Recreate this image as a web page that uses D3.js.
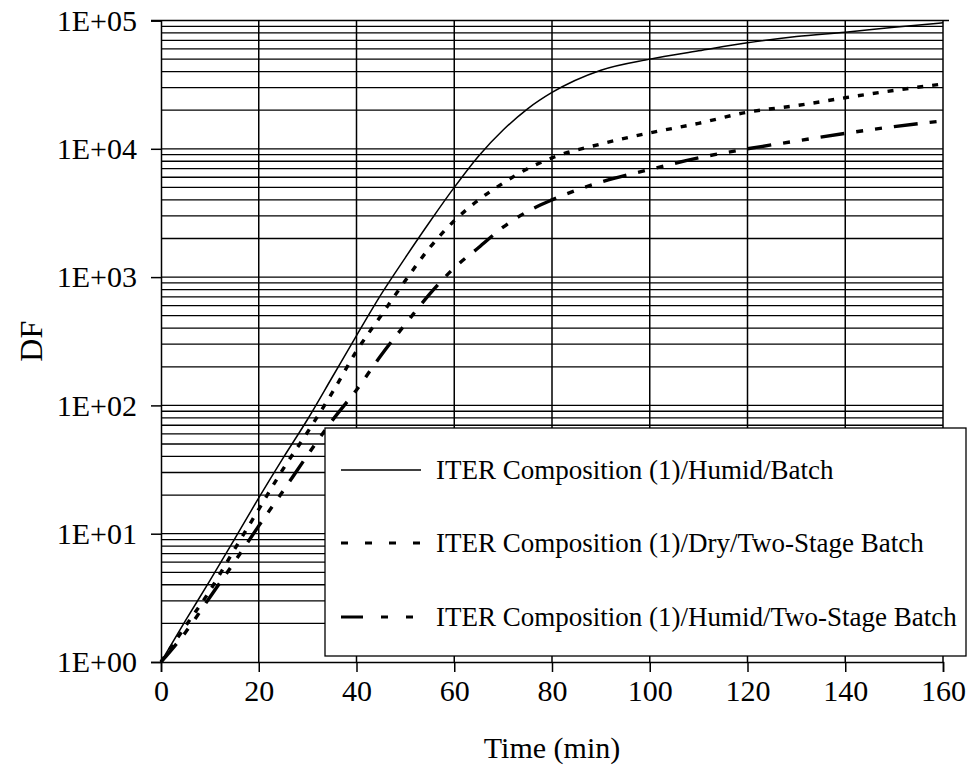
<!DOCTYPE html>
<html>
<head>
<meta charset="utf-8">
<script src="https://cdn.jsdelivr.net/npm/d3@7/dist/d3.min.js"></script>
<style>
  html, body { margin: 0; padding: 0; background: #fff; }
  svg { display: block; }
  text { font-family: "Liberation Serif", "Times New Roman", serif; fill: #000; }
</style>
</head>
<body>
<svg id="chart" width="974" height="777"></svg>
<script>
// ---- data ----
const time = [0,5,10,15,20,25,30,35,40,45,50,55,60,65,70,75,80,90,100,110,120,130,140,150,160];
const humidBatch = [1,2.1,4.3,9,19,39,78,165,350,730,1420,2700,5000,8800,14000,20500,27500,41000,50000,58000,67000,75000,81000,88500,96000];
const dryTwoStage = [1,1.9,3.6,7.5,15.5,32,62,125,265,500,940,1700,2750,4000,5400,7000,8500,10900,13300,15800,19300,21700,25000,28500,32000];
const humidTwoStage = [1,1.7,3.2,6,11.5,21.6,41,76,132,245,430,740,1180,1700,2450,3250,4000,5500,6900,8500,10000,11500,13200,14900,16500];
const seriesNames = [
  "ITER Composition (1)/Humid/Batch",
  "ITER Composition (1)/Dry/Two-Stage Batch",
  "ITER Composition (1)/Humid/Two-Stage Batch"
];
const xTicks = [0,20,40,60,80,100,120,140,160];
const yTicks = [1,10,100,1000,10000,100000];
const yTickLabels = ["1E+00","1E+01","1E+02","1E+03","1E+04","1E+05"];
const xTitle = "Time (min)";
const yTitle = "DF";

// ---- layout ----
const L = 161, R = 943, T = 20.5, B = 662;
const svg = d3.select("#chart");
const x = d3.scaleLinear().domain([0,160]).range([L,R]);
const y = d3.scaleLog().domain([1,1e5]).range([B,T]);

// grid
const minorVals = y.ticks().filter(v => v > 1 && v < 1e5);
const gGrid = svg.append("g");
gGrid.selectAll("line.h").data(minorVals).join("line")
  .attr("x1", L).attr("x2", R)
  .attr("y1", d => y(d)).attr("y2", d => y(d))
  .attr("stroke", "#000").attr("stroke-width", 1.3);
gGrid.selectAll("line.v").data(xTicks.filter(v => v > 0 && v < 160)).join("line")
  .attr("x1", d => x(d)).attr("x2", d => x(d))
  .attr("y1", T).attr("y2", B)
  .attr("stroke", "#000").attr("stroke-width", 1.5);

// axes
const yAxis = d3.axisLeft(y).tickValues(yTicks)
  .tickFormat((d,i) => yTickLabels[i]).tickSize(10).tickPadding(14);
const gy = svg.append("g").attr("transform", `translate(${L},0)`).call(yAxis);
gy.select(".domain").attr("stroke-width", 1.5);
gy.selectAll(".tick line").attr("stroke-width", 1.5);
gy.selectAll("text").style("font-size", "30px");

const xAxis = d3.axisBottom(x).tickValues(xTicks).tickSize(10).tickPadding(8);
const gx = svg.append("g").attr("transform", `translate(0,${B})`).call(xAxis);
gx.select(".domain").attr("stroke-width", 1.5);
gx.selectAll(".tick line").attr("stroke-width", 1.5);
gx.selectAll("text").style("font-size", "30px");

// top and right frame lines
svg.append("line").attr("x1", L - 10).attr("x2", R + 6).attr("y1", T).attr("y2", T)
  .attr("stroke", "#000").attr("stroke-width", 1.5);
svg.append("line").attr("x1", R).attr("x2", R).attr("y1", T).attr("y2", B)
  .attr("stroke", "#000").attr("stroke-width", 1.5);

// titles
svg.append("text").attr("x", (L+R)/2).attr("y", 758).attr("text-anchor", "middle")
  .style("font-size", "30px").text(xTitle);
svg.append("text").attr("transform", `translate(42,${(T+B)/2}) rotate(-90)`)
  .attr("text-anchor", "middle").style("font-size", "32px").text(yTitle);

// lines
const styles = [
  {w: 1.5, dash: null},
  {w: 3.4, dash: "6,9"},
  {w: 3.4, dash: "24,12,7,12,7,12"}
];
const allSeries = [humidBatch, dryTwoStage, humidTwoStage];
const line = d3.line().x(d => x(d[0])).y(d => y(d[1])).curve(d3.curveMonotoneX);
allSeries.forEach((vals, i) => {
  svg.append("path").datum(time.map((t,k) => [t, vals[k]]))
    .attr("d", line).attr("fill", "none").attr("stroke", "#000")
    .attr("stroke-width", styles[i].w)
    .attr("stroke-dasharray", styles[i].dash);
});

// legend
const lg = svg.append("g");
lg.append("rect").attr("x", 325).attr("y", 428).attr("width", 641).attr("height", 228)
  .attr("fill", "#fff").attr("stroke", "#000").attr("stroke-width", 1.3);
const rowsY = [470, 543, 617];
const legendDash = [null, "7,17", "22,18,7,18,7,18"];
seriesNames.forEach((name, i) => {
  lg.append("line").attr("x1", 341).attr("x2", 421).attr("y1", rowsY[i]).attr("y2", rowsY[i])
    .attr("stroke", "#000").attr("stroke-width", i === 0 ? 1.5 : 3.2)
    .attr("stroke-dasharray", legendDash[i]);
  lg.append("text").attr("x", 436).attr("y", rowsY[i]).attr("dy", "0.35em")
    .style("font-size", "27px").text(name);
});
</script>
</body>
</html>
